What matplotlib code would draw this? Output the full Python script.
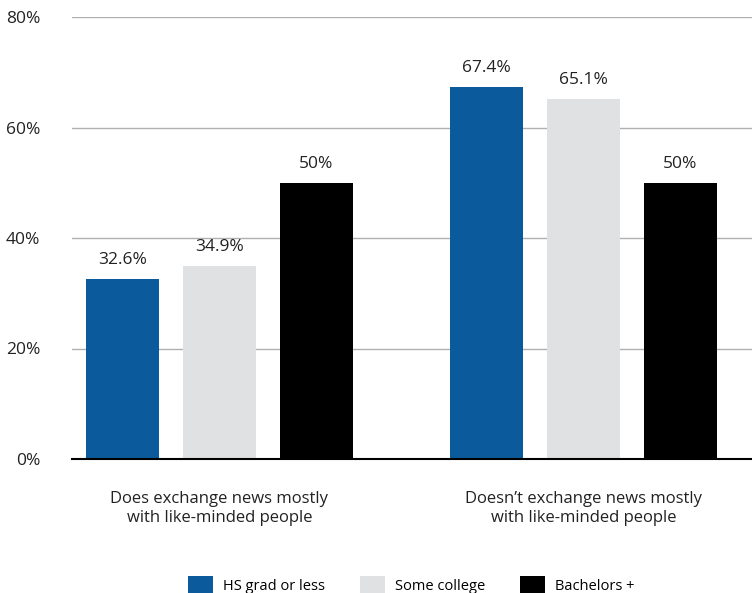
import numpy as np
import matplotlib
matplotlib.use('Agg')
import matplotlib.pyplot as plt
from matplotlib.patches import Patch

categories = ['Does exchange news mostly\nwith like-minded people',
              'Doesn\u2019t exchange news mostly\nwith like-minded people']
series_names = ['HS grad or less', 'Some college', 'Bachelors +']
hs_grad = [32.6, 67.4]
some_college = [34.9, 65.1]
bachelors = [50, 50]
value_labels = [['32.6%', '67.4%'], ['34.9%', '65.1%'], ['50%', '50%']]
yticks = [0, 20, 40, 60, 80]

colors = ['#0a5a9c', '#e0e1e3', '#000000']

plt.rcParams['font.family'] = ['Open Sans', 'DejaVu Sans']

fig = plt.figure(figsize=(7.52, 5.93), dpi=100)
ax = fig.add_axes([72/752, 1 - 459/593, 1 - 72/752, (459 - 17)/593])

x = np.arange(len(categories))
offset = 0.2665
width = 0.2
series = [hs_grad, some_college, bachelors]
for i, (vals, col) in enumerate(zip(series, colors)):
    pos = x + (i - 1) * offset
    ax.bar(pos, vals, width=width, color=col, zorder=3)
    for px, v, lab in zip(pos, vals, value_labels[i]):
        ax.text(px, v + 2.0, lab, ha='center', va='bottom', fontsize=12.5,
                color='#222222')

ax.set_xlim(-0.405, 1.463)
ax.set_ylim(0, 80)
ax.set_yticks(yticks)
ax.set_yticklabels([f'{t}%' for t in yticks], fontsize=12.5, color='#222222')
ax.yaxis.grid(True, color='#b0b0b0', lw=1, zorder=0)
ax.tick_params(axis='y', length=0, pad=23)
ax.set_xticks(x)
ax.set_xticklabels(categories, fontsize=12, color='#222222', linespacing=1.25)
ax.tick_params(axis='x', length=0, pad=23)
for s in ['top', 'right', 'left']:
    ax.spines[s].set_visible(False)
ax.spines['bottom'].set_linewidth(1.5)
ax.spines['bottom'].set_zorder(4)

handles = [Patch(facecolor=c, edgecolor='none') for c in colors]
fig.legend(handles, series_names, loc='lower center', ncol=3, frameon=False,
           bbox_to_anchor=(0.547, -0.025), fontsize=10.5, handlelength=1.7,
           handleheight=1.6, columnspacing=2.4, handletextpad=0.7)

fig.savefig('out.png', dpi=100)
